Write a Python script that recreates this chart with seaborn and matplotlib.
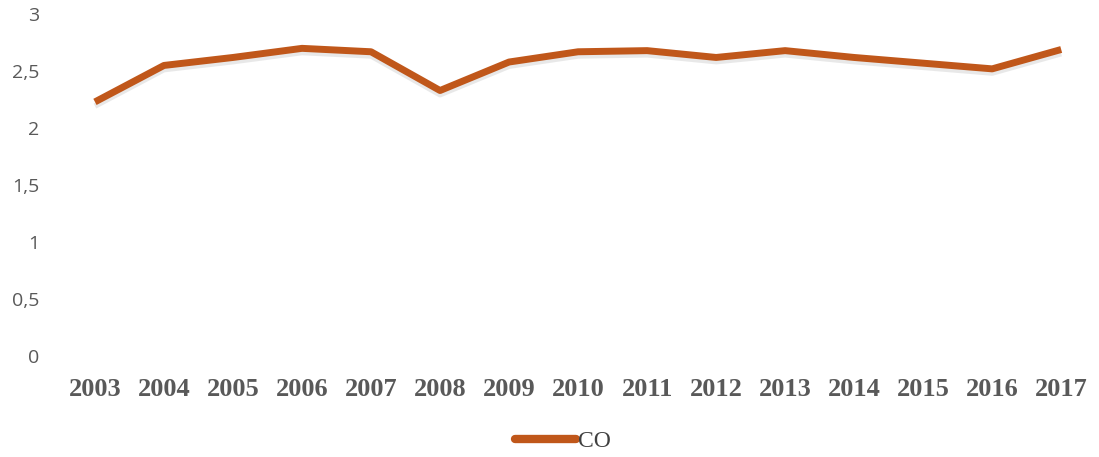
import matplotlib
matplotlib.use("Agg")
import matplotlib.pyplot as plt
import matplotlib.patheffects as pe
from matplotlib.ticker import FuncFormatter, MultipleLocator
import seaborn as sns
import pandas as pd

years = ["2003", "2004", "2005", "2006", "2007", "2008", "2009", "2010",
         "2011", "2012", "2013", "2014", "2015", "2016", "2017"]
co = [2.23, 2.55, 2.62, 2.70, 2.67, 2.33, 2.58, 2.67,
      2.68, 2.62, 2.68, 2.62, 2.57, 2.52, 2.69]
series_name = "CO"

df = pd.DataFrame({"Year": years, series_name: co})

sns.set_theme(style="white")
plt.rcParams["font.family"] = ["Open Sans", "DejaVu Sans"]

line_color = "#C0571A"
text_color = "#595959"

fig = plt.figure(figsize=(10.99, 4.57), dpi=100)
ax = fig.add_axes([0.055, 0.221, 0.942, 0.748])

sns.lineplot(data=df, x="Year", y=series_name, ax=ax, color=line_color,
             linewidth=5.0, sort=False, label=series_name,
             solid_joinstyle="round", solid_capstyle="butt",
             path_effects=[pe.SimpleLineShadow(offset=(0, -3), shadow_color="#9a9a9a",
                                               alpha=0.22, linewidth=4),
                           pe.Normal()])

ax.set_xlim(-0.5, len(years) - 0.5)
ax.set_ylim(0, 3)
ax.yaxis.set_major_locator(MultipleLocator(0.5))
ax.yaxis.set_major_formatter(FuncFormatter(lambda v, p: f"{v:g}".replace(".", ",")))
ax.set_xlabel("")
ax.set_ylabel("")
for s in ax.spines.values():
    s.set_visible(False)
ax.grid(False)
ax.tick_params(axis="y", length=0, pad=15, labelsize=14, labelcolor=text_color)
ax.tick_params(axis="x", length=0, pad=16)
for lbl in ax.get_xticklabels():
    lbl.set_fontfamily("Liberation Serif")
    lbl.set_fontweight("bold")
    lbl.set_fontsize(19)
    lbl.set_color(text_color)

ax.get_legend().remove()
leg = fig.legend(loc="center", bbox_to_anchor=(0.512, 0.035), frameon=False,
                 handlelength=2.6, handletextpad=0.05,
                 prop={"family": "Liberation Serif", "size": 17})
for t in leg.get_texts():
    t.set_color("#404040")
for h in leg.legend_handles:
    h.set_linewidth(6)
    h.set_solid_capstyle("round")
    h.set_path_effects([])

fig.savefig("out.png", dpi=100, facecolor="white")
